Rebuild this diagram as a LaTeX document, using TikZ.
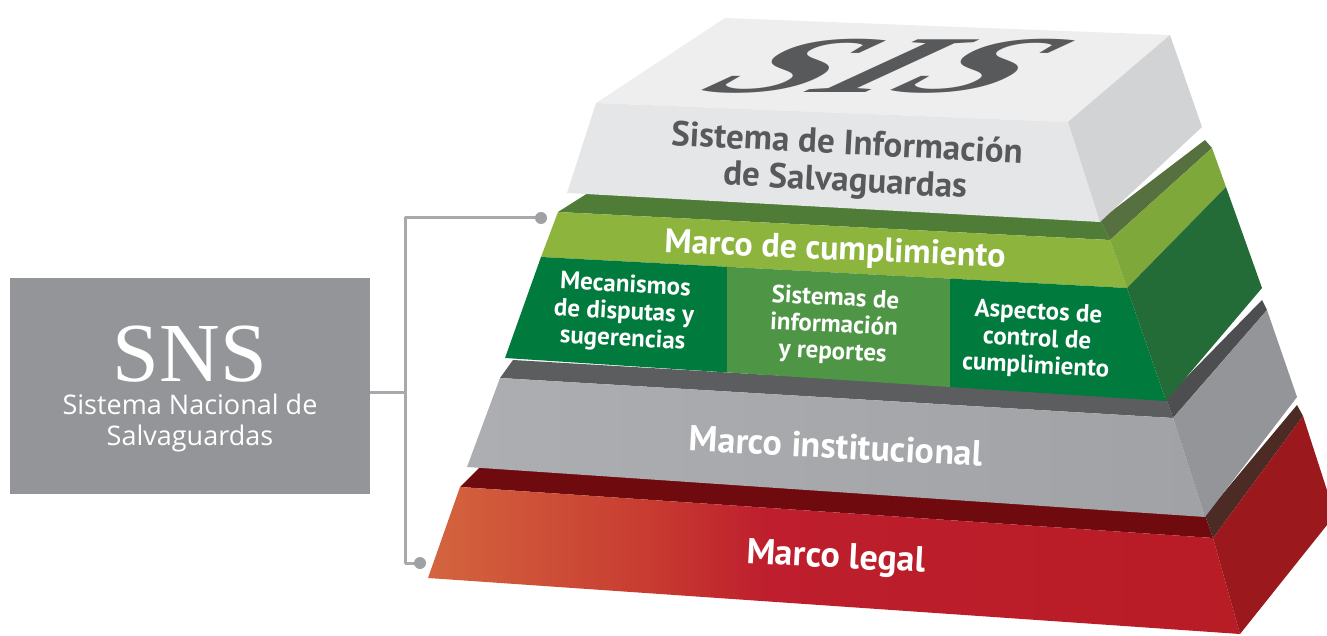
\documentclass[tikz,border=0pt]{standalone}
\usepackage{fontspec}
\newfontfamily\ptsans{PT Sans}
\newfontfamily\opensans{Open Sans}
\newfontfamily\lserif{Liberation Serif}
\definecolor{snsgray}{HTML}{939598}
\definecolor{conncol}{HTML}{A7A9AC}
\definecolor{dotcol}{HTML}{9FA1A4}
\definecolor{wtop}{HTML}{EEEEEF}
\definecolor{wfront}{HTML}{E5E6E7}
\definecolor{wright}{HTML}{D2D3D5}
\definecolor{sisgray}{HTML}{58595B}
\definecolor{gtop}{HTML}{4F7C36}
\definecolor{gtopR}{HTML}{57703F}
\definecolor{glight}{HTML}{8DB53D}
\definecolor{glightR}{HTML}{7EA83A}
\definecolor{gbox}{HTML}{007A3D}
\definecolor{gmid}{HTML}{4E9645}
\definecolor{gdarkR}{HTML}{236B37}
\definecolor{graytop}{HTML}{5C5D5F}
\definecolor{graytopR}{HTML}{4D4E50}
\definecolor{grayL}{HTML}{ACAEB1}
\definecolor{grayR}{HTML}{A0A2A5}
\definecolor{grayright}{HTML}{939598}
\definecolor{redtop}{HTML}{6F0B0E}
\definecolor{redtopR}{HTML}{4B2B24}
\definecolor{redA}{HTML}{D4653F}
\definecolor{redB}{HTML}{C73A30}
\definecolor{redC}{HTML}{BE1E2D}
\definecolor{redD}{HTML}{B81C25}
\definecolor{redright}{HTML}{9B191D}
\pgfdeclarehorizontalshading{redface}{100bp}{color(0bp)=(redA); color(25bp)=(redA); color(39bp)=(redB); color(46bp)=(redC); color(75bp)=(redD); color(100bp)=(redD)}
\tikzset{
  conn/.style={draw=conncol, line width=3pt},
  dotnode/.style={fill=dotcol},
  snsbox/.style={fill=snsgray, inner sep=0pt, minimum width=360pt, minimum height=216pt},
  sistxt/.style={text=sisgray, align=center, inner sep=0pt, font=\ptsans\bfseries\fontsize{35}{37}\selectfont},
  whitetxt/.style={text=white, align=center, inner sep=0pt, font=\ptsans\bfseries\fontsize{34}{34}\selectfont},
  boxtxt/.style={text=white, align=center, inner sep=0pt, font=\ptsans\bfseries\fontsize{25}{27}\selectfont}
}
\begin{document}
\begin{tikzpicture}[x=1pt,y=-1pt,line join=round]
\useasboundingbox (0,0) rectangle (1327,636);
\begin{scope}
\clip (0,0) rectangle (1327,636);
% ---- red slab (Marco legal)
\fill[redtop] (460,487) -- (480,467) -- (1205,515) -- (1213,538) -- cycle;
\fill[redtopR] (1213,538) -- (1205,515) -- (1297,405) -- (1303,416) -- cycle;
\shade[shading=redface] (460,487) -- (1213,538) -- (1240,634) -- (428,578) -- cycle;
\fill[redright] (1213,538) -- (1303,416) -- (1335,515) -- (1240,634) -- cycle;
% ---- gray slab (Marco institucional)
\fill[graytop] (500,378) -- (513,360) -- (1166,398) -- (1173,418) -- cycle;
\fill[graytopR] (1173,418) -- (1166,398) -- (1262,300) -- (1267,310) -- cycle;
\shade[left color=grayL,right color=grayR] (500,378) -- (1173,418) -- (1205,517) -- (467,467) -- cycle;
\fill[grayright] (1173,418) -- (1267,310) -- (1297,397) -- (1205,517) -- cycle;
% ---- green slab (Marco de cumplimiento)
\fill[gtop] (558,212) -- (588,193) -- (1100,220) -- (1110,240) -- cycle;
\fill[gtopR] (1110,240) -- (1100,220) -- (1205,140) -- (1212,148) -- cycle;
\fill[glight] (558,212) -- (1110,240) -- (1127,288) -- (541,257) -- cycle;
\fill[gbox] (541,257) -- (727,266.8) -- (727,372.4) -- (505,358) -- cycle;
\fill[gmid] (727,266.8) -- (950,278.6) -- (950,387) -- (727,372.4) -- cycle;
\fill[gbox] (950,278.6) -- (1127,288) -- (1166,401) -- (950,387) -- cycle;
\fill[glightR] (1110,240) -- (1212,148) -- (1226,187) -- (1127,288) -- cycle;
\fill[gdarkR] (1127,288) -- (1226,187) -- (1262,288) -- (1166,401) -- cycle;
% ---- white slab (SIS)
\fill[wtop] (596,103) -- (725,18) -- (1170,35) -- (1068,122) -- cycle;
\fill[wfront] (596,103) -- (1068,122) -- (1100,222) -- (567,193) -- cycle;
\fill[wright] (1068,122) -- (1170,35) -- (1202,127) -- (1100,222) -- cycle;
\end{scope}
% ---- texts on the pyramid
\begin{scope}[shift={(890,66)}, xscale=2.85, yscale=1.15, xslant=0.7]
\node[transform shape, text=sisgray, inner sep=0pt, font=\lserif\bfseries\itshape\fontsize{70}{70}\selectfont] (sis) at (0,0) {SIS};
\end{scope}
\node[sistxt, rotate=-3] (sisname) at (846,164) {Sistema de Información\\de Salvaguardas};
\node[whitetxt, rotate=-2.5] (mcump) at (835,251) {Marco de cumplimiento};
\node[boxtxt, rotate=-3] (b1) at (624,313) {Mecanismos\\de disputas y\\sugerencias};
\node[boxtxt, rotate=-3] (b2) at (834,326) {Sistemas de\\información\\y reportes};
\node[boxtxt, rotate=-3] (b3) at (1037,340) {Aspectos de\\control de\\cumplimiento};
\node[whitetxt, rotate=-3, font=\ptsans\bfseries\fontsize{36}{36}\selectfont] (minst) at (836,446) {Marco institucional};
\node[whitetxt, rotate=-3, font=\ptsans\bfseries\fontsize{36}{36}\selectfont] (mlegal) at (836,559) {Marco legal};
% ---- SNS box
\node[snsbox] (sns) at (190,386) {};
\node[text=white, inner sep=0pt, font=\lserif\fontsize{84}{84}\selectfont] (snsT) at (190,354) {SNS};
\node[text=white, inner sep=0pt, align=center, font=\opensans\fontsize{27}{31}\selectfont] (snsS) at (190,423) {Sistema Nacional de\\Salvaguardas};
% ---- connector
\coordinate (ctop) at (541,218);
\coordinate (cbot) at (420,563);
\draw[conn] ([yshift=-6pt]sns.east) -- ++(35,0) coordinate (cj) |- (ctop);
\draw[conn] (cj) |- (cbot);
\fill[dotnode] (ctop) circle (6pt);
\fill[dotnode] (cbot) circle (6pt);
\end{tikzpicture}
\end{document}
